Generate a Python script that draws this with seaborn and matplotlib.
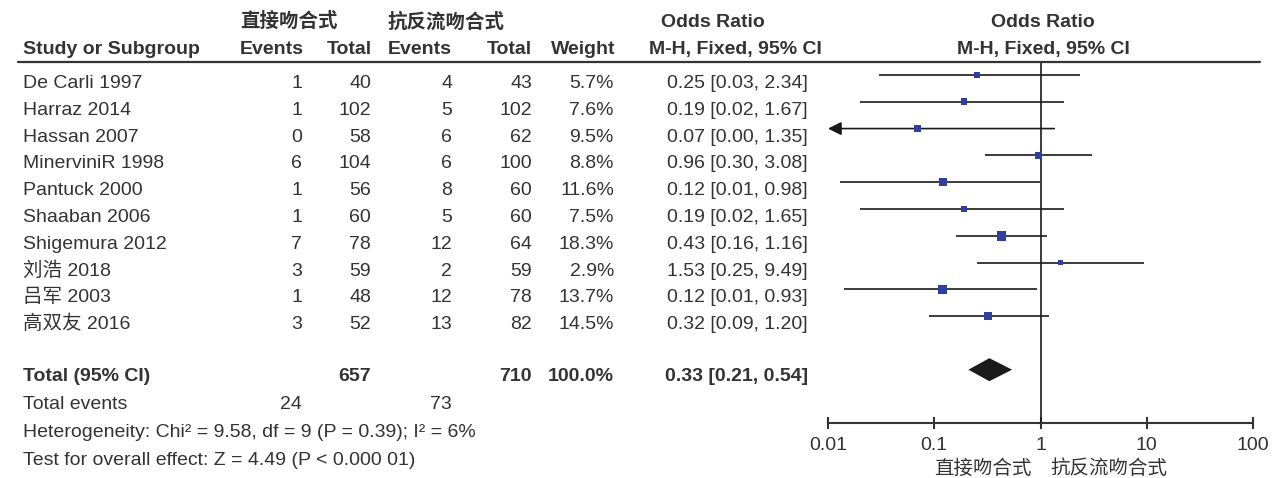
import numpy as np
import pandas as pd
import matplotlib
matplotlib.use('Agg')
import matplotlib.pyplot as plt
import matplotlib.transforms as mtransforms
from matplotlib.lines import Line2D
from matplotlib.ticker import NullLocator
import seaborn as sns

# Daten aus dem Forest-Plot
studies = ['De Carli 1997', 'Harraz 2014', 'Hassan 2007', 'MinerviniR 1998', 'Pantuck 2000',
           'Shaaban 2006', 'Shigemura 2012', '刘浩 2018', '吕军 2003', '高双友 2016']
events_a = [1, 1, 0, 6, 1, 1, 7, 3, 1, 3]
total_a = [40, 102, 58, 104, 56, 60, 78, 59, 48, 52]
events_b = [4, 5, 6, 6, 8, 5, 12, 2, 12, 13]
total_b = [43, 102, 62, 100, 60, 60, 64, 59, 78, 82]
weight = [5.7, 7.6, 9.5, 8.8, 11.6, 7.5, 18.3, 2.9, 13.7, 14.5]
odds = [0.25, 0.19, 0.07, 0.96, 0.12, 0.19, 0.43, 1.53, 0.12, 0.32]
ci_low = [0.03, 0.02, 0.00, 0.30, 0.013, 0.02, 0.16, 0.25, 0.014, 0.09]
ci_high = [2.34, 1.67, 1.35, 3.08, 0.98, 1.65, 1.16, 9.49, 0.93, 1.20]

total_n = [657, 710]
total_events = [24, 73]
total_weight = 100.0
total_or = [0.33, 0.21, 0.54]   # Schaetzer, untere, obere Grenze
heterogeneity = 'Heterogeneity: Chi² = 9.58, df = 9 (P = 0.39); I² = 6%'
overall = 'Test for overall effect: Z = 4.49 (P < 0.000 01)'
group_a = '直接吻合式'
group_b = '抗反流吻合式'
x_ticks = [0.01, 0.1, 1, 10, 100]
x_ticklabels = ['0.01', '0.1', '1', '10', '100']

df = pd.DataFrame({'study': studies, 'row': np.arange(len(studies)), 'weight': weight,
                   'odds': odds, 'lo': ci_low, 'hi': ci_high})

sns.set_theme(style='white')
plt.rcParams['font.family'] = ['Liberation Sans', 'Noto Sans CJK SC']

TXT = '#333333'
FS = 14
W, H = 1275, 478
xmin, xmax = 0.01, 100

fig = plt.figure(figsize=(12.75, 4.78), dpi=100)
ax = fig.add_axes([828 / W, 1 - 423 / H, 425 / W, 361 / H])
ax.set_xscale('log')
ax.set_xlim(xmin, xmax)
ax.set_ylim(12.99, -0.485)

# Konfidenzintervalle (untere Grenze ausserhalb der Achse -> Pfeil)
inside = df[df['lo'] >= xmin]
ax.hlines(inside['row'], inside['lo'], inside['hi'], color='#1a1a1a', lw=1.2)
for _, r in df[df['lo'] < xmin].iterrows():
    ax.annotate('', xy=(xmin, r['row']), xytext=(r['hi'], r['row']),
                arrowprops=dict(arrowstyle='-|>', color='#1a1a1a', lw=1.2,
                                mutation_scale=20, shrinkA=0, shrinkB=0),
                annotation_clip=False)

# Quadrate nach Gewicht
sns.scatterplot(data=df, x='odds', y='row', size='weight', sizes=(12, 48), marker='s',
                color='#2f3f9f', edgecolor='none', legend=False, ax=ax, zorder=3)

# Raute fuer Gesamteffekt
est, lo, hi = total_or
ty = 11
ax.fill([lo, est, hi, est], [ty, ty - 0.43, ty, ty + 0.43], color='#1a1a1a', lw=0)

ax.axvline(1, color='#1a1a1a', lw=1.2)

for s in ['top', 'left', 'right']:
    ax.spines[s].set_visible(False)
ax.spines['bottom'].set_color('#333333')
ax.spines['bottom'].set_linewidth(1.5)
ax.set_xticks(x_ticks, x_ticklabels)
ax.xaxis.set_minor_locator(NullLocator())
ax.set_yticks([])
ax.tick_params(axis='x', direction='inout', length=8, width=1.5, color='#333333',
               labelsize=FS, labelcolor=TXT, pad=6, bottom=True)
ax.set_xlabel('')
ax.set_ylabel('')

ax.annotate(group_a, xy=(1, 14.88), xytext=(-6.5, 0), textcoords='offset points',
            ha='right', va='baseline', fontsize=FS, color=TXT, annotation_clip=False)
ax.annotate(group_b, xy=(1, 14.88), xytext=(7, 0), textcoords='offset points',
            ha='left', va='baseline', fontsize=FS, color=TXT, annotation_clip=False)

# Tabelle links
trans = mtransforms.blended_transform_factory(fig.transFigure, ax.transData)


def put(px, y, s, ha='right', bold=False, **kw):
    ax.text(px / W, y, s, transform=trans, ha=ha, va='baseline', fontsize=FS,
            color=TXT, fontweight='bold' if bold else 'normal', clip_on=False, **kw)


col_ea, col_ta, col_eb, col_tb, col_w, col_ci = 302, 371, 452, 532, 614, 808

# Kopfzeilen
put(240, -1.78, group_a, ha='left', bold=True)
put(388, -1.78, group_b, ha='left', bold=True)
put(713, -1.78, 'Odds Ratio', ha='center', bold=True)
put(1043, -1.78, 'Odds Ratio', ha='center', bold=True)
put(23, -0.78, 'Study or Subgroup', ha='left', bold=True)
put(col_ea + 2, -0.78, 'Events', bold=True)
put(col_ta + 1, -0.78, 'Total', bold=True)
put(col_eb, -0.78, 'Events', bold=True)
put(col_tb, -0.78, 'Total', bold=True)
put(col_w + 1, -0.78, 'Weight', bold=True)
put(735, -0.78, 'M-H, Fixed, 95% CI', ha='center', bold=True)
put(1043, -0.78, 'M-H, Fixed, 95% CI', ha='center', bold=True)

fig.add_artist(Line2D([18 / W, 1260 / W], [1 - 62 / H] * 2, color='#333333', lw=1.6))

for i in range(len(studies)):
    y = i + 0.49
    put(23, y, studies[i], ha='left')
    put(col_ea, y, str(events_a[i]))
    put(col_ta, y, str(total_a[i]))
    put(col_eb, y, str(events_b[i]))
    put(col_tb, y, str(total_b[i]))
    put(col_w, y, f'{weight[i]:.1f}%')
    put(col_ci, y, f'{odds[i]:.2f} [{ci_low[i]:.2f}, {ci_high[i]:.2f}]')

y = 11.42
put(23, y, 'Total (95% CI)', ha='left', bold=True)
put(col_ta, y, str(total_n[0]), bold=True)
put(col_tb, y, str(total_n[1]), bold=True)
put(col_w, y, f'{total_weight:.1f}%', bold=True)
put(col_ci, y, f'{total_or[0]:.2f} [{total_or[1]:.2f}, {total_or[2]:.2f}]', bold=True)

y = 12.46
put(23, y, 'Total events', ha='left')
put(col_ea, y, str(total_events[0]))
put(col_eb, y, str(total_events[1]))
put(23, 13.5, heterogeneity, ha='left')
put(23, 14.55, overall, ha='left')

fig.savefig('out.png', dpi=100, facecolor='white')
